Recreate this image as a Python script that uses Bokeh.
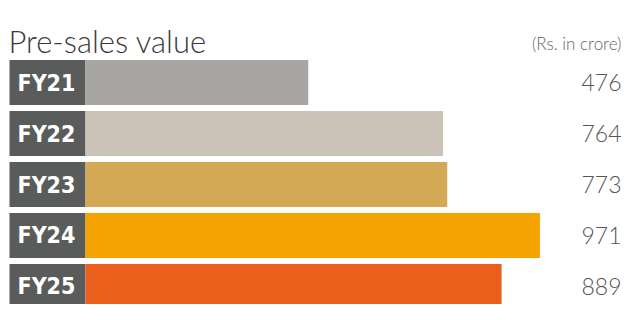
from bokeh.plotting import figure
from bokeh.models import Range1d, ColumnDataSource, Label
from bokeh.core.properties import value
from bokeh.embed import file_html
from bokeh.resources import INLINE

# Data
years = ["FY21", "FY22", "FY23", "FY24", "FY25"]
presales = [476, 764, 773, 971, 889]
bar_colors = ["#a8a6a2", "#cbc3b7", "#d4a955", "#f5a300", "#ec5e1c"]
title_text = "Pre-sales value"
unit_text = "(Rs. in crore)"

idx = list(range(len(years)))
src = ColumnDataSource(dict(
    y=idx, v=presales, color=bar_colors, year=years,
    vlabel=[str(v) for v in presales],
))

W, H = 623, 304
p = figure(width=W, height=H, output_backend="svg", toolbar_location=None,
           x_range=Range1d(-181.6, 1149.6), y_range=Range1d(4.353, -1.608),
           min_border=0, outline_line_color=None, background_fill_color="white",
           border_fill_color="white")
p.axis.visible = False
p.grid.visible = False

# label boxes
p.hbar(y="y", left=-162.4, right=0, height=0.88, source=src,
       fill_color="#5a5c5b", line_color=None)
# value bars
p.hbar(y="y", left=0, right="v", height=0.88, source=src,
       fill_color="color", line_color=None)

# year labels
p.text(x=-145.3, y="y", text="year", source=src, text_color="white",
       text_font=value("DejaVu Sans Condensed, Liberation Sans"),
       text_font_style="bold",
       text_font_size="23px", text_baseline="middle", text_align="left")

# value labels
p.text(x=1145.3, y="y", text="vlabel", source=src, text_color="#555555",
       text_font=value("Lato Light"), text_font_size="23px",
       text_baseline="middle", text_align="right")

p.add_layout(Label(x=8, y=H - 40, x_units="screen", y_units="screen",
                   text=title_text, text_font="Lato Light",
                   text_font_size="31px", text_color="#3a3a3a",
                   text_baseline="alphabetic"))
p.add_layout(Label(x=W - 2, y=H - 43, x_units="screen", y_units="screen",
                   text=unit_text, text_font="Lato Light",
                   text_font_size="17px", text_color="#666666",
                   text_align="right", text_baseline="alphabetic"))

open("out.html", "w").write(file_html(p, INLINE))
